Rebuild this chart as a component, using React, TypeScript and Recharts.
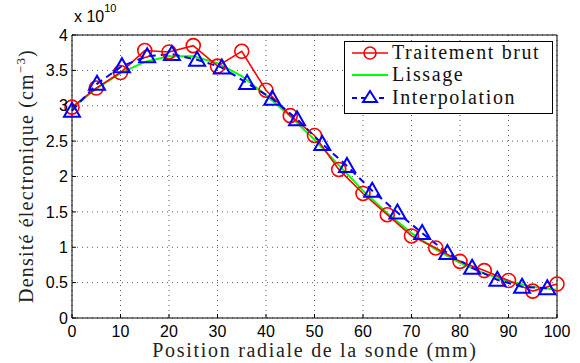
import React from 'react';
import { LineChart, Line, XAxis, YAxis, CartesianGrid, ReferenceLine } from 'recharts';

// position radiale (mm) et densité (x 1e10 cm^-3)
const brutX = [0, 5, 10, 15, 20, 25, 30, 35, 40, 45, 50, 55, 60, 65, 70, 75, 80, 85, 90, 95, 100];
const brutY = [2.98, 3.25, 3.47, 3.78, 3.76, 3.85, 3.56, 3.77, 3.22, 2.86, 2.58, 2.1, 1.76, 1.46, 1.16, 0.99, 0.8, 0.67, 0.53, 0.38, 0.48];

const lissageX = [0, 5, 10, 15, 20, 25, 30, 35, 40, 45, 50, 55, 60, 65, 70, 75, 80, 85, 90, 95, 100];
const lissageY = [2.97, 3.24, 3.46, 3.62, 3.7, 3.7, 3.6, 3.42, 3.15, 2.85, 2.52, 2.16, 1.8, 1.48, 1.2, 0.97, 0.78, 0.63, 0.52, 0.44, 0.4];

const interpX = [0, 5.16, 10.3, 15.5, 20.6, 25.8, 30.9, 36.1, 41.3, 46.4, 51.6, 56.7, 61.9, 67.1, 72.2, 77.4, 82.5, 87.7, 92.8, 98];
const interpY = [2.93, 3.31, 3.56, 3.7, 3.73, 3.65, 3.54, 3.32, 3.1, 2.81, 2.46, 2.15, 1.8, 1.49, 1.2, 0.92, 0.71, 0.54, 0.44, 0.42];

const xTicks = [0, 10, 20, 30, 40, 50, 60, 70, 80, 90, 100];
const yTicks = [0, 0.5, 1, 1.5, 2, 2.5, 3, 3.5, 4];

const brut = brutX.map((x, i) => ({ x, y: brutY[i] }));
const lissage = lissageX.map((x, i) => ({ x, y: lissageY[i] }));
const interp = interpX.map((x, i) => ({ x, y: interpY[i] }));

const serif = '"Liberation Serif", "DejaVu Serif", serif';
const sans = '"Liberation Sans", Arial, sans-serif';

const Triangle = (props: any) => {
  const { cx, cy, key } = props;
  if (cx == null || cy == null) return null;
  const s = 8;
  return (
    <path
      key={key}
      d={`M${cx},${cy - s} L${cx + s},${cy + s * 0.75} L${cx - s},${cy + s * 0.75} Z`}
      fill="none"
      stroke="#0000ff"
      strokeWidth={2}
    />
  );
};

const Circle = (props: any) => {
  const { cx, cy, key } = props;
  if (cx == null || cy == null) return null;
  return <circle key={key} cx={cx} cy={cy} r={7} fill="none" stroke="#ff0000" strokeWidth={1.6} />;
};

const LegendBox = () => (
  <div
    style={{
      position: 'absolute',
      left: 344,
      top: 41,
      width: 209,
      height: 73,
      border: '1.5px solid #000',
      background: '#fff',
      boxSizing: 'border-box',
    }}
  >
    <svg width={206} height={70} style={{ display: 'block' }}>
      <line x1={7} x2={43} y1={11} y2={11} stroke="#ff0000" strokeWidth={1.6} />
      <circle cx={25} cy={11} r={6} fill="none" stroke="#ff0000" strokeWidth={1.6} />
      <text x={47} y={17} fontFamily={serif} fontSize={20} letterSpacing={1.6} fill="#111">Traitement brut</text>
      <line x1={7} x2={43} y1={33} y2={33} stroke="#00ff00" strokeWidth={2} />
      <text x={47} y={39} fontFamily={serif} fontSize={20} letterSpacing={1.6} fill="#111">Lissage</text>
      <line x1={7} x2={43} y1={56} y2={56} stroke="#0000ff" strokeWidth={2} strokeDasharray="5 4" />
      <path d="M25,49 L32,60 L18,60 Z" fill="#fff" stroke="#0000ff" strokeWidth={2} />
      <text x={47} y={62} fontFamily={serif} fontSize={20} letterSpacing={1.6} fill="#111">Interpolation</text>
    </svg>
  </div>
);

const YLabel = () => (
  <text
    transform="translate(33,176) rotate(-90)"
    textAnchor="middle"
    fontFamily={serif}
    fontSize={20}
    letterSpacing={1.2}
    fill="#222"
  >
    Densité électronique (cm
    <tspan dy={-8} fontSize={13}>−3</tspan>
    <tspan dy={8}>)</tspan>
  </text>
);

const XLabel = () => (
  <text x={315} y={357} textAnchor="middle" fontFamily={serif} fontSize={20} letterSpacing={1.7} fill="#222">
    Position radiale de la sonde (mm)
  </text>
);

export default function App() {
  return (
    <div style={{ position: 'absolute', left: 0, top: 0, width: 580, height: 363, background: '#fff' }}>
      <LineChart width={580} height={363} margin={{ top: 35, right: 23, bottom: 15, left: 22 }}>
        <CartesianGrid stroke="#333" strokeDasharray="1 4" strokeWidth={0.8} />
        <XAxis
          dataKey="x"
          type="number"
          domain={[0, 100]}
          ticks={xTicks}
          allowDuplicatedCategory={false}
          height={30}
          stroke="#000"
          tickSize={-4}
          tickMargin={12}
          tick={{ fontFamily: sans, fontSize: 16, fill: '#000' }}
          label={<XLabel />}
        />
        <YAxis
          dataKey="y"
          type="number"
          domain={[0, 4]}
          ticks={yTicks}
          width={50}
          stroke="#000"
          tickSize={-4}
          tickMargin={8}
          tick={{ fontFamily: sans, fontSize: 16, fill: '#000' }}
          label={<YLabel />}
        />
        <ReferenceLine y={4} stroke="#000" ifOverflow="visible" />
        <ReferenceLine x={100} stroke="#000" ifOverflow="visible" />
        <Line data={lissage} dataKey="y" name="Lissage" stroke="#00ff00" strokeWidth={2} dot={false} isAnimationActive={false} />
        <Line data={brut} dataKey="y" name="Traitement brut" stroke="#ff0000" strokeWidth={1.6} dot={Circle} isAnimationActive={false} />
        <Line data={interp} dataKey="y" name="Interpolation" stroke="#0000ff" strokeWidth={2} strokeDasharray="7 5" dot={Triangle} isAnimationActive={false} />
      </LineChart>
      <LegendBox />
      <div style={{ position: 'absolute', left: 74, top: 8, fontFamily: sans, fontSize: 16, color: '#000' }}>
        x 10<sup style={{ fontSize: 11, verticalAlign: 'top', position: 'relative', top: -6 }}>10</sup>
      </div>
    </div>
  );
}
